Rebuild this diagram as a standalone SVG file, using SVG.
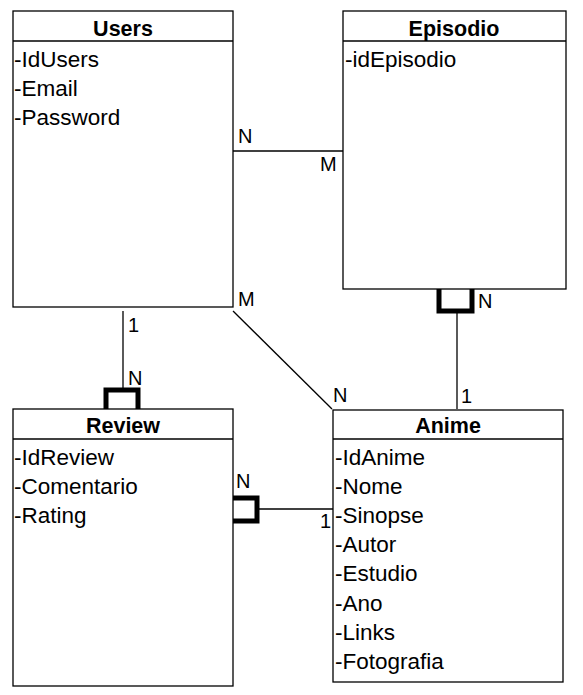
<svg xmlns="http://www.w3.org/2000/svg" width="583" height="695" viewBox="0 0 583 695">
<style>
.box{fill:#fff;stroke:#000;stroke-width:1.3}
.t{font-family:"Liberation Sans",Arial,sans-serif;font-size:21.5px;font-weight:bold;text-anchor:middle;fill:#000}
.a{font-family:"Liberation Sans",Arial,sans-serif;font-size:22.5px;fill:#000}
.l{font-family:"Liberation Sans",Arial,sans-serif;font-size:20px;fill:#000}
.c{fill:none;stroke:#000;stroke-width:1.3}
.k{fill:none;stroke:#000;stroke-width:5}
</style>
<rect width="583" height="695" fill="#fff"/>
<g id="connectors">
<line class="c" x1="233" y1="151" x2="347" y2="151"/>
<line class="c" x1="123" y1="311" x2="123" y2="389"/>
<path class="k" d="M106,409 V390 H138 V409"/>
<line class="c" x1="457" y1="311" x2="457" y2="409"/>
<path class="k" d="M439,289 V311 H472 V289"/>
<line class="c" x1="258" y1="509" x2="333" y2="509"/>
<path class="k" d="M233,498 H257 V521 H233"/>
<line class="c" x1="233" y1="311" x2="332" y2="409"/>
<text class="l" x="238" y="143">N</text>
<text class="l" x="320" y="171">M</text>
<text class="l" x="128" y="332">1</text>
<text class="l" x="128" y="385">N</text>
<text class="l" x="478" y="308">N</text>
<text class="l" x="461" y="403">1</text>
<text class="l" x="236" y="488">N</text>
<text class="l" x="320" y="528">1</text>
<text class="l" x="238" y="306">M</text>
<text class="l" x="333" y="402">N</text>
</g>
<g id="users">
<rect class="box" x="13" y="11" width="220" height="296"/>
<line class="c" x1="13" y1="41" x2="233" y2="41"/>
<text class="t" x="123" y="36">Users</text>
<text class="a" x="14" y="67">-IdUsers</text>
<text class="a" x="14" y="96">-Email</text>
<text class="a" x="14" y="125">-Password</text>
</g>
<g id="episodio">
<rect class="box" x="343" y="11" width="223" height="278"/>
<line class="c" x1="343" y1="41" x2="566" y2="41"/>
<text class="t" x="454" y="36">Episodio</text>
<text class="a" x="345" y="67">-idEpisodio</text>
</g>
<g id="review">
<rect class="box" x="13" y="409" width="220" height="277"/>
<line class="c" x1="13" y1="439" x2="233" y2="439"/>
<text class="t" x="123" y="433">Review</text>
<text class="a" x="14" y="465">-IdReview</text>
<text class="a" x="14" y="494">-Comentario</text>
<text class="a" x="14" y="523">-Rating</text>
</g>
<g id="anime">
<rect class="box" x="333" y="410" width="230" height="272"/>
<line class="c" x1="333" y1="439" x2="563" y2="439"/>
<text class="t" x="448" y="433">Anime</text>
<text class="a" x="335" y="465">-IdAnime</text>
<text class="a" x="335" y="494">-Nome</text>
<text class="a" x="335" y="523">-Sinopse</text>
<text class="a" x="335" y="552">-Autor</text>
<text class="a" x="335" y="581">-Estudio</text>
<text class="a" x="335" y="611">-Ano</text>
<text class="a" x="335" y="640">-Links</text>
<text class="a" x="335" y="669">-Fotografia</text>
</g>
</svg>
